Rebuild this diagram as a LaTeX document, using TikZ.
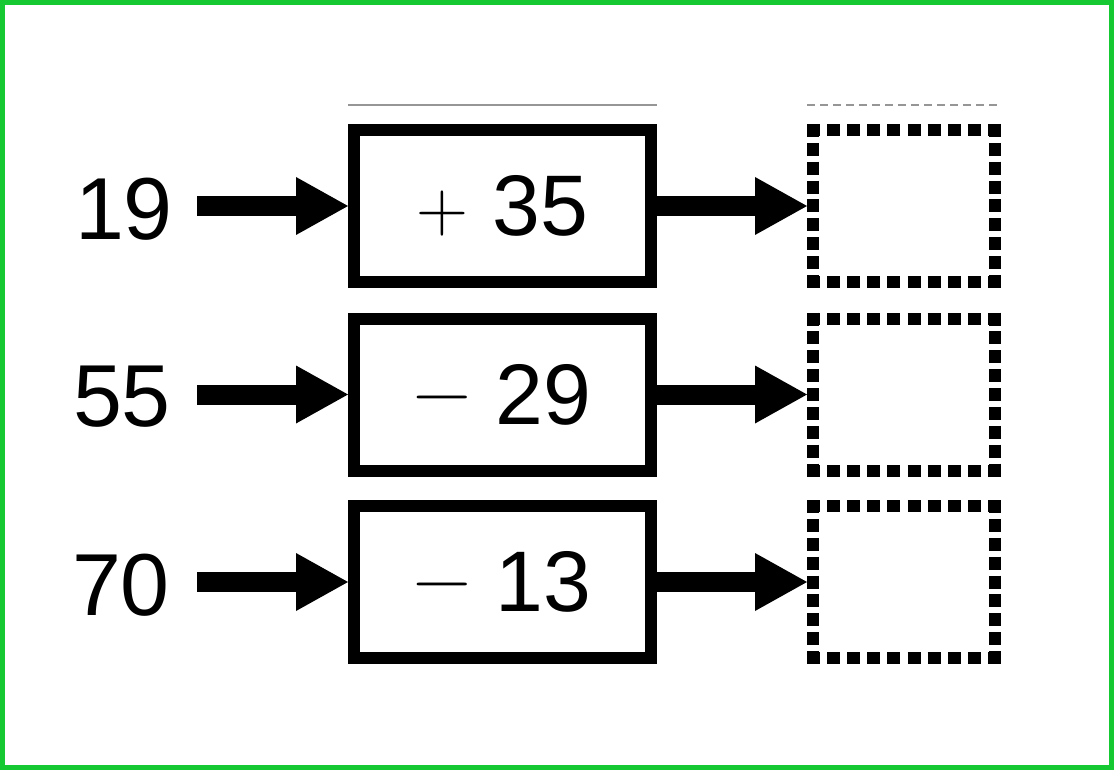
\documentclass[tikz,border=0pt]{standalone}
\usepackage{fontspec}
\setmainfont{Liberation Sans}
\newfontfamily\signfont{Latin Modern Roman}
\usetikzlibrary{arrows.meta}
\definecolor{framegreen}{RGB}{22,200,50}
\definecolor{thingray}{RGB}{150,150,150}
\newcommand\plussign{\raisebox{4pt}{\signfont\fontsize{72}{80}\selectfont +}}
\newcommand\minussign{\raisebox{7pt}{\signfont\fontsize{80}{90}\selectfont −}}
\begin{document}
\begin{tikzpicture}[x=1pt,y=-1pt,
  lbl/.style={inner sep=0pt, font=\fontsize{88}{100}\selectfont},
  opbox/.style={draw, line width=12pt, minimum width=297pt, minimum height=152pt, inner sep=0pt, font=\fontsize{86}{100}\selectfont},
  ansbox/.style={minimum width=182pt, minimum height=152pt, inner sep=0pt, outer sep=0pt},
  hdash/.style={line width=12pt, dash pattern=on 13pt off 7.11pt},
  vdash/.style={line width=12pt, dash pattern=on 13pt off 5.875pt},
  bigarrow/.style={line width=20pt, -{Triangle[length=52pt,width=58pt,line width=0pt]}},
  thinsolid/.style={draw=thingray, line width=1.5pt},
  thindash/.style={draw=thingray, line width=1.5pt, dash pattern=on 8pt off 5pt}
]
\useasboundingbox (0,0) rectangle (1114,770);
\draw[framegreen, line width=5pt] (2.5,2.5) rectangle (1111.5,767.5);

% boxes
\node[opbox] (b1) at (502.5,206) {\plussign\ 35};
\node[opbox] (b2) at (502.5,394.5) {\minussign\ 29};
\node[opbox] (b3) at (502.5,582) {\minussign\ 13};

\node[ansbox] (r1) at (904,206) {};
\node[ansbox] (r2) at (904,394.5) {};
\node[ansbox] (r3) at (904,582) {};
\foreach \r in {r1,r2,r3}{
  \draw[hdash] ([xshift=-6pt]\r.north west) -- ([xshift=6pt]\r.north east);
  \draw[hdash] ([xshift=-6pt]\r.south west) -- ([xshift=6pt]\r.south east);
  \draw[vdash] ([yshift=6pt]\r.north west) -- ([yshift=-6pt]\r.south west);
  \draw[vdash] ([yshift=6pt]\r.north east) -- ([yshift=-6pt]\r.south east);
}

% labels
\node[lbl] (l1) at (124,209) {19};
\node[lbl] (l2) at (122,397) {55};
\node[lbl] (l3) at (121,585) {70};

\coordinate (a1) at (197,206);
\coordinate (a2) at (197,394.5);
\coordinate (a3) at (197,582);

\draw[bigarrow] (a1) -- (b1.west);
\draw[bigarrow] (a2) -- (b2.west);
\draw[bigarrow] (a3) -- (b3.west);

\draw[bigarrow] (b1.east) -- ([xshift=-6pt]r1.west);
\draw[bigarrow] (b2.east) -- ([xshift=-6pt]r2.west);
\draw[bigarrow] (b3.east) -- ([xshift=-6pt]r3.west);

% thin top lines
\draw[thinsolid] ([yshift=19pt]b1.north west) -- ([yshift=19pt]b1.north east);
\draw[thindash] ([xshift=-6pt,yshift=25pt]r1.north west) -- ([xshift=6pt,yshift=25pt]r1.north east);
\end{tikzpicture}
\end{document}
